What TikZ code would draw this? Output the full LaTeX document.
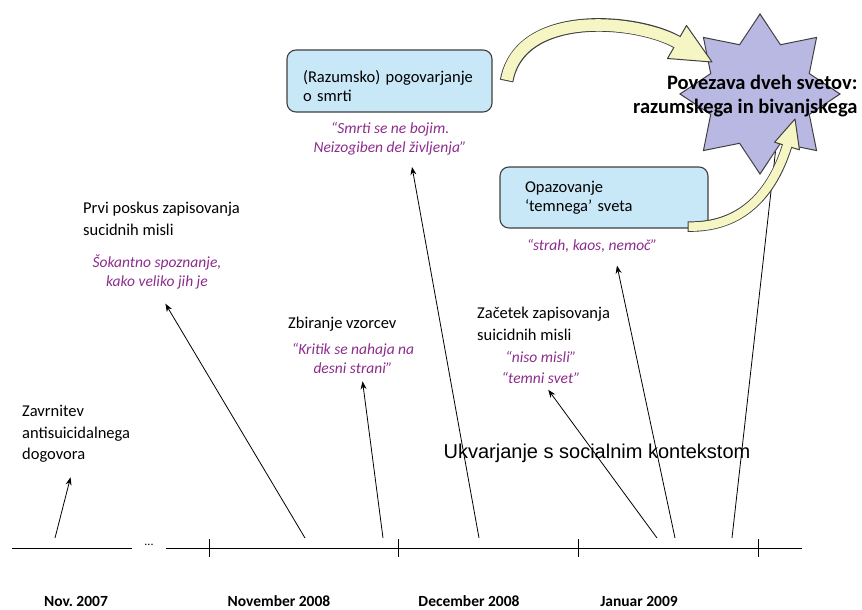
\documentclass[tikz,border=0pt]{standalone}
\usepackage{fontspec}
\setmainfont{Carlito}
\newfontfamily\arialfont{Liberation Sans}
\usepackage{tikz}
\usetikzlibrary{shapes.geometric, positioning, arrows.meta}
\definecolor{boxblue}{RGB}{200,232,248}
\definecolor{edgegray}{RGB}{64,64,64}
\definecolor{starlilac}{RGB}{184,184,226}
\definecolor{bandyellow}{RGB}{246,245,196}
\definecolor{quotepurple}{RGB}{140,45,140}
\frenchspacing

\begin{document}
\begin{tikzpicture}[x=1pt, y=-1pt,
    note/.style={align=left, inner sep=4pt, font=\fontsize{16.5}{21.5}\selectfont},
    quote/.style={align=center, inner sep=4pt, text=quotepurple, font=\fontsize{15.5}{19}\selectfont\itshape},
    box/.style={rectangle, rounded corners=9pt, draw=edgegray, line width=1.1pt, fill=boxblue, align=left, font=\fontsize{16.5}{19.5}\selectfont},
    datum/.style={font=\fontsize{15.5}{18}\selectfont\bfseries},
    arrow/.style={-{Stealth[length=8pt, width=6pt]}, line width=0.8pt},
    timeline/.style={line width=1pt},
    band/.style={line width=#1, draw=edgegray},
    bandfill/.style={line width=#1, draw=bandyellow},
    bandhead/.style={fill=bandyellow, draw=edgegray, line width=1pt, line join=round}
]
    \useasboundingbox (0,0) rectangle (862,610);

    % Timeline
    \coordinate (tlstart) at (12,548);
    \coordinate (tlend) at (802,548);
    \node[inner xsep=12pt, font=\fontsize{12}{14}\selectfont] (gap) at (149,545) {...};
    \draw[timeline] (tlstart) -- (tlstart -| gap.west);
    \draw[timeline] (tlend -| gap.east) -- (tlend);
    \draw[timeline] (209,539) -- (209,557);
    \draw[timeline] (398,539) -- (398,557);
    \draw[timeline] (578,539) -- (578,557);
    \draw[timeline] (758,539) -- (758,557);

    % Dates
    \node[datum] (nov07) at (76,601) {Nov. 2007};
    \node[datum] (nov08) at (279,601) {November 2008};
    \node[datum] (dec08) at (469,601) {December 2008};
    \node[datum] (jan09) at (639,601) {Januar 2009};

    % Events
    \node[note, anchor=north west] (zavr) at (18,401) {Zavrnitev\\antisuicidalnega\\dogovora};
    \node[note, anchor=north west] (prvi) at (79,198) {Prvi poskus zapisovanja\\sucidnih misli};
    \node[quote] (prviq) at (157,272) {Šokantno spoznanje,\\kako veliko jih je};
    \node[note, anchor=north west] (zbir) at (284,313) {Zbiranje vzorcev};
    \node[quote] (zbirq) at (353,358) {“Kritik se nahaja na\\desni strani”};
    \node[note, anchor=north west] (zac) at (473,303) {Začetek zapisovanja\\suicidnih misli};
    \node[quote, font=\fontsize{15.5}{21}\selectfont\itshape] (zacq) at (541,367) {“niso misli”\\“temni svet”};

    % Boxes
    \node[box, minimum width=205pt, minimum height=62pt, text width=173pt, text height=22pt] (razum) at (389.5,81) {(Razumsko) pogovarjanje\\o smrti};
    \node[quote] (razq) at (390,138.5) {“Smrti se ne bojim.\\Neizogiben del življenja”};
    \node[box, minimum width=208pt, minimum height=61pt, text width=158pt] (opaz) at (604,197.5) {Opazovanje\\‘temnega’ sveta};
    \node[quote] (opazq) at (592,246) {“strah, kaos, nemoč”};

    \node[font=\arialfont\fontsize{20}{23}\selectfont] (ukv) at (597,453) {Ukvarjanje s socialnim kontekstom};

    % Star
    \node[star, star points=8, star point ratio=1.5, minimum size=160pt, inner sep=0pt, fill=starlilac, draw=edgegray, line width=1pt] (star) at (760,94) {};
    \node[anchor=east, align=right, font=\fontsize{20.5}{24}\selectfont\bfseries] (startxt) at (861,96) {Povezava dveh svetov:\\razumskega in bivanjskega};

    % Arrows from timeline
    \coordinate (m1) at (55,538);
    \coordinate (m2) at (305,538);
    \coordinate (m3) at (383,538);
    \coordinate (m4) at (479,538);
    \coordinate (m5) at (657,538);
    \coordinate (m6) at (675,538);
    \coordinate (m7) at (732,538);
    \draw[arrow, shorten >=11pt] (m1) -- (zavr.-95);
    \draw[arrow, shorten >=12pt] (m2) -- (prviq.-84);
    \draw[arrow, shorten >=4pt] (m3) -- (zbirq.-65);
    \draw[arrow, shorten >=8pt] (m4) -- (razq.-45);
    \draw[arrow, shorten >=3pt] (m5) -- (zacq.-75);
    \draw[arrow, shorten >=9pt] (m6) -- (opazq.-25);
    \draw[line width=0.8pt] (m7) -- (star.-75);

    % Curved arrows into the star
    \coordinate (tail1) at ([xshift=14pt]razum.east);
    \draw[band=13.6pt] (tail1) .. controls (520,8) and (638,19.5) .. (677,42);
    \draw[bandhead] (667.5,58.5) -- (712,62) -- (686.5,25.5) -- cycle;
    \draw[bandfill=11.6pt, shorten <=1pt, shorten >=-2pt] (tail1) .. controls (520,8) and (638,19.5) .. (677,42);

    \coordinate (tail2) at ([xshift=-21pt, yshift=2pt]opaz.south east);
    \draw[band=10.4pt] (tail2) .. controls (748,228) and (775,185) .. (787,146);
    \draw[bandhead] (799.4,149.8) -- (795,119) -- (774.6,142.2) -- cycle;
    \draw[bandfill=8.6pt, shorten <=1pt, shorten >=-2pt] (tail2) .. controls (748,228) and (775,185) .. (787,146);
\end{tikzpicture}
\end{document}
